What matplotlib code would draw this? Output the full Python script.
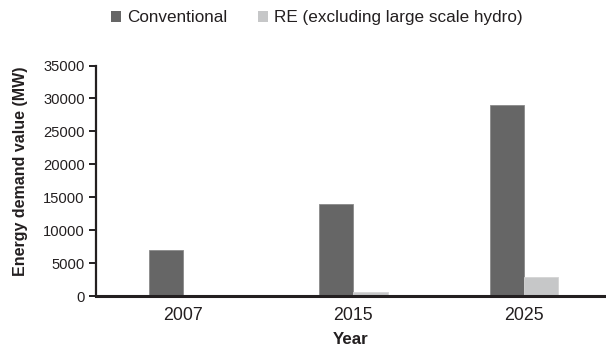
import numpy as np
import matplotlib
matplotlib.use('Agg')
import matplotlib.pyplot as plt
from matplotlib.patches import Patch

plt.rcParams['font.family'] = ['Liberation Sans', 'DejaVu Sans']

years = ['2007', '2015', '2025']
conventional = [7000, 14000, 29000]
renewable = [0, 650, 2900]
series_names = ['Conventional', 'RE (excluding large scale hydro)']

dark = '#666666'
light = '#c6c7c8'
ink = '#231f20'

fig = plt.figure(figsize=(6.06, 3.46), dpi=100)
ax = fig.add_axes([0.158, 0.1445, 0.842, 0.666])

x = np.arange(len(years))
w = 0.2
ax.bar(x - w / 2, conventional, w, color=dark, edgecolor='#8a8a8a', linewidth=0.6)
ax.bar(x + w / 2, renewable, w, color=light, edgecolor='#d4d4d4', linewidth=0.6)

ax.set_xlim(-0.51, 2.48)
ax.set_ylim(0, 35000)
ax.set_yticks(range(0, 35001, 5000))
ax.set_xticks(x)
ax.set_xticklabels(years)

for s in ['top', 'right']:
    ax.spines[s].set_visible(False)
ax.spines['left'].set_linewidth(1.6)
ax.spines['left'].set_color(ink)
ax.spines['bottom'].set_linewidth(2.2)
ax.spines['bottom'].set_color(ink)

ax.tick_params(axis='y', length=5, width=1.4, color=ink, pad=3,
               labelsize=10.6, labelcolor=ink)
ax.tick_params(axis='x', length=0, pad=8, labelsize=12.8, labelcolor=ink)

ax.set_ylabel('Energy demand value (MW)', fontsize=11.5, fontweight='bold',
              color=ink)
ax.yaxis.set_label_coords(-0.133, 0.54)
ax.set_xlabel('Year', fontsize=12.2, fontweight='bold', color=ink, labelpad=6)

handles = [Patch(facecolor=dark, edgecolor='none'),
           Patch(facecolor=light, edgecolor='none')]
fig.legend(handles, series_names, loc='center', bbox_to_anchor=(0.523, 0.948),
           ncol=2, frameon=False, fontsize=12.3, handlelength=0.6,
           handleheight=0.6, handletextpad=0.35, columnspacing=1.8,
           labelcolor=ink)

fig.savefig('out.png', dpi=100)
